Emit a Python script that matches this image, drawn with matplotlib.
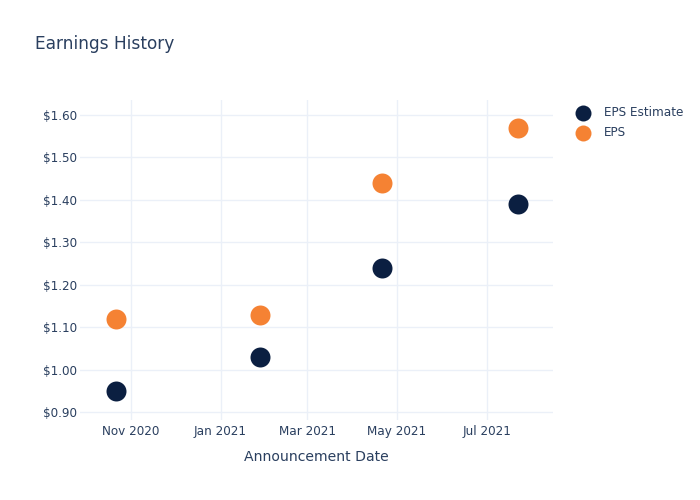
import matplotlib
matplotlib.use("Agg")
import matplotlib.pyplot as plt
import pandas as pd

dates = ["2020-10-22", "2021-01-28", "2021-04-21", "2021-07-22"]
eps_estimate = [0.95, 1.03, 1.24, 1.39]
eps_actual = [1.12, 1.13, 1.44, 1.57]
tick_dates = ["2020-11-01", "2021-01-01", "2021-03-01", "2021-05-01", "2021-07-01"]
tick_labels = ["Nov 2020", "Jan 2021", "Mar 2021", "May 2021", "Jul 2021"]
y_ticks = [0.90, 1.00, 1.10, 1.20, 1.30, 1.40, 1.50, 1.60]

navy = "#0b1f41"
orange = "#f58233"
text_c = "#2a3f5f"
grid_c = "#ebf0f8"

plt.rcParams['font.family'] = ['DejaVu Sans']

fig = plt.figure(figsize=(7, 5), dpi=100)
ax = fig.add_axes([80/700, 80/500, 473/700, 320/500])

x = pd.to_datetime(dates)
ax.scatter(x, eps_estimate, s=207, color=navy, label="EPS Estimate", zorder=3, linewidths=0)
ax.scatter(x, eps_actual, s=207, color=orange, label="EPS", zorder=3, linewidths=0)

ax.set_xlim(pd.Timestamp("2020-09-27 12:00"), pd.Timestamp("2021-08-15 00:00"))
ax.set_ylim(0.882, 1.635)

ax.set_xticks(pd.to_datetime(tick_dates))
ax.set_xticklabels(tick_labels)
ax.set_yticks(y_ticks)
ax.set_yticklabels([f"${v:.2f}" for v in y_ticks])

ax.tick_params(axis='both', length=0, labelsize=8.64, labelcolor=text_c)
ax.tick_params(axis='y', pad=2)
ax.tick_params(axis='x', pad=3.5)
for s in ax.spines.values():
    s.set_visible(False)
ax.grid(True, color=grid_c, linewidth=1)
ax.set_axisbelow(True)

ax.set_xlabel("Announcement Date", fontsize=10.08, color=text_c, labelpad=8.5)

fig.text(35/700, 1 - 44/500, "Earnings History", fontsize=12.24, color=text_c,
         va='center', ha='left')

leg = fig.legend(loc='upper left', bbox_to_anchor=(571/700, 1 - 106/500),
                 frameon=False, fontsize=8.64, markerscale=0.8,
                 handletextpad=0.75, labelspacing=0.6, borderaxespad=0, borderpad=0)
for t in leg.get_texts():
    t.set_color(text_c)

fig.savefig("out.png", dpi=100, facecolor="white")
